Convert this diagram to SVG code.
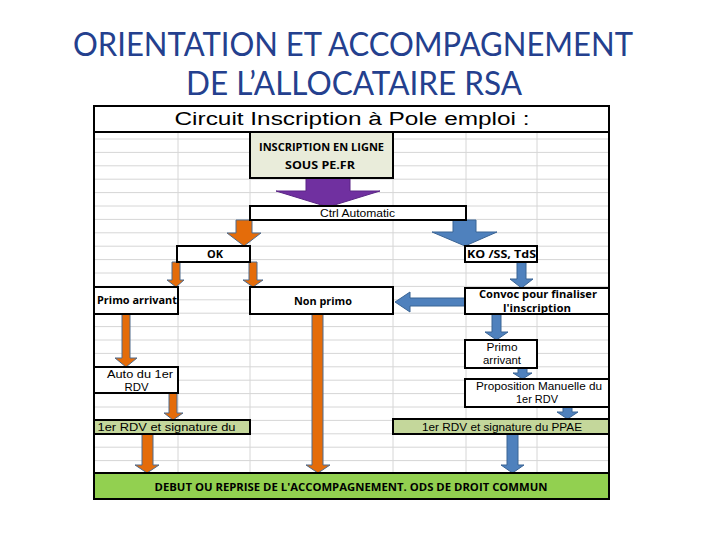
<svg xmlns="http://www.w3.org/2000/svg" width="720" height="540" viewBox="0 0 720 540">
<style>
.title{font-family:Lato,"Liberation Sans",sans-serif;font-size:32px;fill:#24408e;text-anchor:middle}
.grid line{stroke:#d6d6d6;stroke-width:1}
.box{fill:#fff;stroke:#000;stroke-width:2}
.b{font-family:"Open Sans",Lato,sans-serif;font-weight:bold;font-size:11px;fill:#000;text-anchor:middle}
.n{font-family:"Liberation Sans",Arial,sans-serif;font-size:11px;fill:#000;text-anchor:middle}
.oa{fill:#e46c0a;stroke:#4e6b8c;stroke-width:1}
.ba{fill:#4f81bd;stroke:#3b6494;stroke-width:1}
.pa{fill:#7030a0;stroke:#5a2585;stroke-width:1}
</style>
<rect width="720" height="540" fill="#fff"/>
<text class="title" x="353" y="56" textLength="560" lengthAdjust="spacingAndGlyphs">ORIENTATION ET ACCOMPAGNEMENT</text>
<text class="title" x="354" y="95" textLength="336" lengthAdjust="spacingAndGlyphs">DE L’ALLOCATAIRE RSA</text>

<g id="frame">
<rect x="94" y="106" width="515" height="393" fill="#fff" stroke="none"/>
<g class="grid">
<line x1="94" y1="139" x2="609" y2="139"/><line x1="94" y1="152.4" x2="609" y2="152.4"/>
<line x1="94" y1="165.8" x2="609" y2="165.8"/><line x1="94" y1="179.2" x2="609" y2="179.2"/>
<line x1="94" y1="192.6" x2="609" y2="192.6"/><line x1="94" y1="206" x2="609" y2="206"/>
<line x1="94" y1="219.4" x2="609" y2="219.4"/><line x1="94" y1="232.8" x2="609" y2="232.8"/>
<line x1="94" y1="246.2" x2="609" y2="246.2"/><line x1="94" y1="259.6" x2="609" y2="259.6"/>
<line x1="94" y1="273" x2="609" y2="273"/><line x1="94" y1="286.4" x2="609" y2="286.4"/>
<line x1="94" y1="299.8" x2="609" y2="299.8"/><line x1="94" y1="313.2" x2="609" y2="313.2"/>
<line x1="94" y1="326.6" x2="609" y2="326.6"/><line x1="94" y1="340" x2="609" y2="340"/>
<line x1="94" y1="353.4" x2="609" y2="353.4"/><line x1="94" y1="366.8" x2="609" y2="366.8"/>
<line x1="94" y1="380.2" x2="609" y2="380.2"/><line x1="94" y1="393.6" x2="609" y2="393.6"/>
<line x1="94" y1="407" x2="609" y2="407"/><line x1="94" y1="420.4" x2="609" y2="420.4"/>
<line x1="94" y1="433.8" x2="609" y2="433.8"/><line x1="94" y1="447.2" x2="609" y2="447.2"/>
<line x1="94" y1="460.6" x2="609" y2="460.6"/>
<line x1="178" y1="132" x2="178" y2="499"/><line x1="250" y1="132" x2="250" y2="499"/>
<line x1="393" y1="132" x2="393" y2="499"/><line x1="466" y1="132" x2="466" y2="499"/>
<line x1="537" y1="132" x2="537" y2="499"/>
</g>
<rect x="94" y="106" width="515" height="393" fill="none" stroke="#000" stroke-width="2"/>
<line x1="94" y1="132" x2="609" y2="132" stroke="#000" stroke-width="2"/>
<text x="352" y="125" font-family="'Liberation Sans',Arial,sans-serif" font-size="18" text-anchor="middle" textLength="355" lengthAdjust="spacingAndGlyphs">Circuit Inscription à Pole emploi :</text>
</g>

<g id="connectors">
<polygon class="pa" points="306,178 350,178 350,191 380,191 328,207 276,191 306,191"/>
<polygon class="oa" points="236,220 252,220 252,233 261,233 244,246 227,233 236,233"/>
<polygon class="ba" points="453,220 476,220 476,232 497,232 465,246 432,232 453,232"/>
<polygon class="oa" points="172,262 180,262 180,280 184,280 176,287 167,280 172,280"/>
<polygon class="oa" points="249,262 257,262 257,280 263,280 253,287 243,280 249,280"/>
<polygon class="ba" points="517,262 526,262 526,279 533,279 521.5,288 510,279 517,279"/>
<polygon class="ba" points="465,298 410,298 410,292 395,302 410,312 410,306 465,306"/>
<polygon class="oa" points="122,314 130,314 130,358 137,358 126,367 115,358 122,358"/>
<polygon class="oa" points="312,314 323,314 323,465 330,465 318,473 306,465 312,465"/>
<polygon class="ba" points="492,314 501,314 501,332 508,332 496.5,340 485,332 492,332"/>
<polygon class="ba" points="518,368 527,368 527,373 532,373 522.5,379 513,373 518,373"/>
<polygon class="ba" points="563,407 572,407 572,412 578,412 567.5,419 557,412 563,412"/>
<polygon class="oa" points="169,393 177,393 177,413 183,413 173,420 164,413 169,413"/>
<polygon class="oa" points="142,434 153,434 153,465 159,465 147,473 135,465 142,465"/>
<polygon class="ba" points="507,434 518,434 518,465 524,465 512.5,473 501,465 507,465"/>
</g>

<g id="inscription"><rect class="box" x="250" y="132" width="143" height="46" style="fill:#e9ecda"/>
<text class="b" x="321.5" y="151" textLength="125" lengthAdjust="spacingAndGlyphs">INSCRIPTION EN LIGNE</text><text class="b" x="320" y="169" textLength="70" lengthAdjust="spacingAndGlyphs">SOUS PE.FR</text></g>
<g id="ctrl"><rect class="box" x="250" y="206" width="216" height="14" stroke-width="1.5"/>
<text class="n" x="357.5" y="217" textLength="75" lengthAdjust="spacingAndGlyphs">Ctrl Automatic</text></g>
<g id="ok"><rect class="box" x="177" y="246" width="73" height="16"/>
<text class="b" x="215" y="258" textLength="16" lengthAdjust="spacingAndGlyphs">OK</text></g>
<g id="ko"><rect class="box" x="465" y="246" width="72" height="16"/>
<text class="b" x="501.5" y="258" textLength="69" lengthAdjust="spacingAndGlyphs">KO /SS, TdS</text></g>
<g id="primo-arrivant"><rect class="box" x="94" y="287" width="84" height="27"/>
<text class="b" x="137" y="304" textLength="80" lengthAdjust="spacingAndGlyphs">Primo arrivant</text></g>
<g id="non-primo"><rect class="box" x="250" y="287" width="143" height="27"/>
<text class="b" x="323" y="305" textLength="58" lengthAdjust="spacingAndGlyphs">Non primo</text></g>
<g id="convoc"><rect class="box" x="465" y="288" width="144" height="26"/>
<text class="b" x="538" y="298" textLength="118" lengthAdjust="spacingAndGlyphs">Convoc pour finaliser</text><text class="b" x="537" y="312" textLength="68" lengthAdjust="spacingAndGlyphs">l'inscription</text></g>
<g id="primo-right"><rect class="box" x="465" y="340" width="72" height="28"/>
<text class="n" x="502" y="351" textLength="31" lengthAdjust="spacingAndGlyphs">Primo</text><text class="n" x="502" y="364" textLength="38" lengthAdjust="spacingAndGlyphs">arrivant</text></g>
<g id="auto"><rect class="box" x="94" y="367" width="84" height="26"/>
<text class="n" x="140" y="378" textLength="66" lengthAdjust="spacingAndGlyphs">Auto du 1er</text><text class="n" x="136.5" y="391" textLength="24" lengthAdjust="spacingAndGlyphs">RDV</text></g>
<g id="proposition"><rect class="box" x="465" y="379" width="144" height="28"/>
<text class="n" x="539" y="390" textLength="126" lengthAdjust="spacingAndGlyphs">Proposition Manuelle du</text><text class="n" x="537" y="403" textLength="42" lengthAdjust="spacingAndGlyphs">1er RDV</text></g>
<g id="rdv-left"><rect class="box" x="94" y="420" width="156" height="14" style="fill:#c4d79b"/>
<text class="n" x="166.5" y="431" textLength="138" lengthAdjust="spacingAndGlyphs">1er RDV et signature du</text></g>
<g id="rdv-ppae"><rect class="box" x="393" y="419" width="216" height="15" style="fill:#c4d79b"/>
<text class="n" x="502" y="431" textLength="160" lengthAdjust="spacingAndGlyphs">1er RDV et signature du PPAE</text></g>
<g id="debut"><rect class="box" x="94" y="473" width="515" height="26" style="fill:#92d050"/>
<text class="b" x="351" y="491" textLength="393" lengthAdjust="spacingAndGlyphs">DEBUT OU REPRISE DE L'ACCOMPAGNEMENT. ODS DE DROIT COMMUN</text></g>
</svg>
